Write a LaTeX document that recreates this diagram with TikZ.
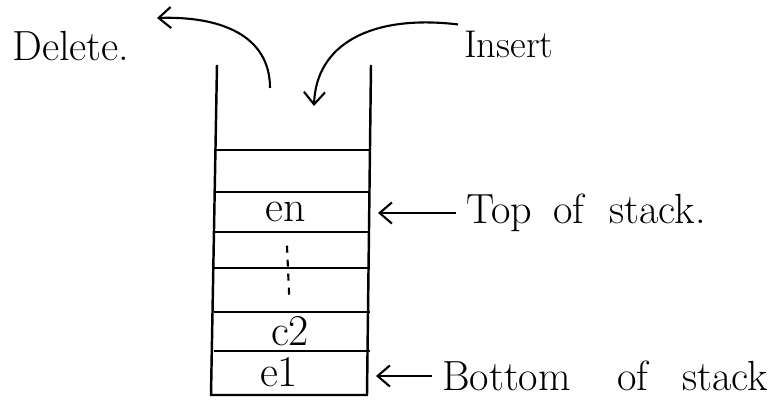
\documentclass[tikz,border=0pt]{standalone}
\usetikzlibrary{arrows.meta}
\tikzset{
	wall/.style={line width=1.4pt},
	hand/.style={font=\fontsize{24}{28}\selectfont},
	cellname/.style={font=\fontsize{25}{28}\selectfont, inner sep=0.5pt},
	pointer/.style={line width=1.2pt,-{Straight Barb[length=7pt,width=12pt]}},
}
\begin{document}
\begin{tikzpicture}[x=0.02cm,y=-0.02cm]
	\useasboundingbox (0,0) rectangle (772,408);
	\draw [wall] (217,65) -- (211,395) -- (367,395) -- (371,65);
	\foreach \y in {150,192,232,268,312,351}{
	\draw [wall] (214,\y) -- (370,\y);
	}
	\node [cellname] (en) at (286,212) {en};
	\node [cellname] (e2) at (290,331) {c2};
	\node [cellname] (e1) at (279,372) {e1};
	\draw [line width=1.2pt, dash pattern=on 4pt off 4pt, shorten <=0.45cm, shorten >=0.4cm] (en.south) -- (e2.north);
	\node [hand, anchor=west] (delete) at (6,46) {Delete.};
	\node [hand, anchor=west, font=\fontsize{22}{26}\selectfont] (insert) at (458,44) {Insert};
	\node [hand, anchor=west] (top) at (460,213) {Top\hspace{0.5em}of\hspace{0.6em}stack.};
	\node [hand, anchor=west] (bottom) at (436,376) {Bottom\hspace{1.1em}of\hspace{0.8em}stack};
	\coordinate (out) at (270,88);
	\coordinate (deltip) at (157,18);
	\coordinate (instip) at (314,106);
	\coordinate (topcell) at (378,213);
	\coordinate (botcell) at (376,376);
	\draw [pointer] (out) .. controls (270,35) and (220,16) .. (deltip);
	\draw [pointer] (insert.north west) .. controls (370,14) and (316,45) .. (instip);
	\draw [pointer, shorten <=2pt] (top.west) -- (topcell);
	\draw [pointer, shorten <=2pt] (bottom.west) -- (botcell);
\end{tikzpicture}
\end{document}
